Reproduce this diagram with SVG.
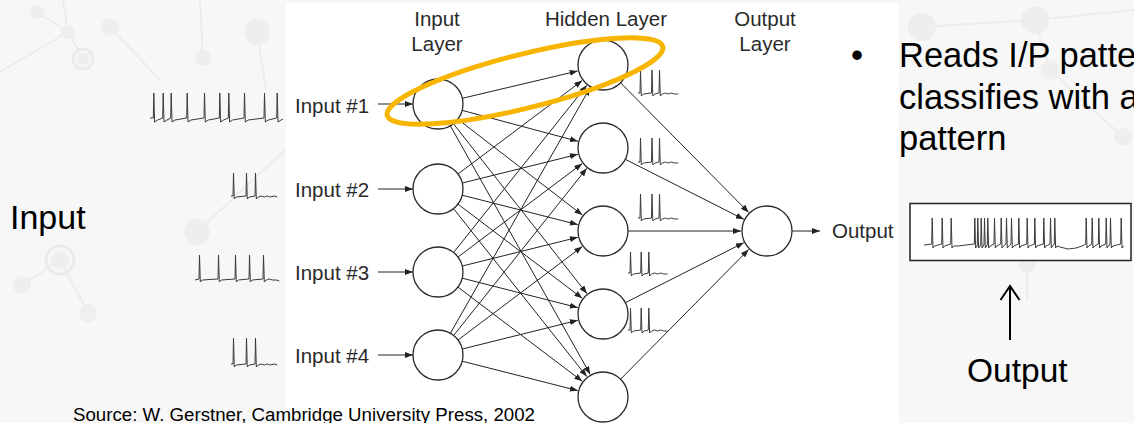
<svg xmlns="http://www.w3.org/2000/svg" width="1134" height="423" viewBox="0 0 1134 423">
<style>
.bgdec line{stroke:#ececec;stroke-width:2}
.bgdec circle{fill:#eeeeee}
.bgdec .ring{fill:none;stroke:#ebebeb;stroke-width:3}
.node circle{fill:#fff;stroke:#2a2a2a;stroke-width:1.3}
.conn line{stroke:#222;stroke-width:1;fill:none;marker-end:url(#ah)}
.lbl{font-family:"Liberation Sans",Arial,sans-serif;font-size:20.5px;fill:#2a2a2a}
.big{font-family:"Liberation Sans",Arial,sans-serif;font-size:34.5px;fill:#000}
.spk{fill:none;stroke:#3a3a3a;stroke-width:1;stroke-linejoin:round}
</style>
<defs>
<marker id="ah" viewBox="0 0 8 6" refX="8" refY="3" markerWidth="8" markerHeight="6" markerUnits="userSpaceOnUse" orient="auto">
<path d="M0,0 L8,3 L0,6 z" fill="#222"/>
</marker>
</defs>
<rect x="0" y="0" width="1134" height="423" fill="#f7f7f7"/>
<g class="bgdec">
<line x1="0" y1="72" x2="68" y2="32"/><line x1="37" y1="12" x2="68" y2="32"/><line x1="68" y1="32" x2="83" y2="59"/><line x1="68" y1="32" x2="63" y2="0"/>
<line x1="203" y1="58" x2="200" y2="0"/><line x1="257" y1="32" x2="266" y2="90"/><line x1="110" y1="27" x2="160" y2="80"/>
<line x1="22" y1="285" x2="60" y2="260"/><line x1="60" y1="260" x2="88" y2="313"/><line x1="197" y1="232" x2="285" y2="150"/>
<line x1="922" y1="27" x2="1035" y2="20"/><line x1="1035" y1="20" x2="1050" y2="70"/><line x1="1050" y1="70" x2="1123" y2="137"/><line x1="1027" y1="240" x2="1027" y2="300"/><line x1="1134" y1="10" x2="1035" y2="20"/>
<circle cx="37" cy="12" r="7"/><circle cx="68" cy="32" r="7"/><circle cx="83" cy="59" r="6"/><circle class="ring" cx="83" cy="59" r="10"/>
<circle cx="110" cy="27" r="9"/><circle cx="203" cy="58" r="8"/><circle cx="257" cy="32" r="13"/>
<circle cx="197" cy="232" r="13"/><circle cx="60" cy="260" r="9"/><circle class="ring" cx="60" cy="260" r="14"/><circle cx="22" cy="285" r="9"/><circle cx="88" cy="313" r="9"/>
<circle cx="922" cy="27" r="14"/><circle cx="1035" cy="20" r="14"/><circle cx="1050" cy="70" r="10"/><circle cx="1123" cy="137" r="9"/>
<circle class="ring" cx="1027" cy="240" r="14"/><circle cx="1027" cy="265" r="8"/>
</g>
<rect x="286" y="3" width="613" height="420" fill="#fff"/>

<g id="layer-labels" class="lbl" text-anchor="middle">
<text x="437" y="26">Input</text><text x="437" y="51">Layer</text>
<text x="606" y="26">Hidden Layer</text>
<text x="765" y="26">Output</text><text x="765" y="51">Layer</text>
</g>

<g id="input-spikes" class="spk">
<path d="M150,118 L153.3,118 l0.5,-25 l0.8,29 l3,-2 L162.7,118 l0.5,-25 l0.8,29 l3,-2 L170.7,118 l0.5,-25 l0.8,29 l3,-2 L186.7,118 l0.5,-25 l0.8,29 l3,-2 L204,118 l0.5,-25 l0.8,29 l3,-2 L219.3,118 l0.5,-25 l0.8,29 l3,-2 L228.3,118 l0.5,-25 l0.8,29 l3,-2 L244,118 l0.5,-25 l0.8,29 l3,-2 L264,118 l0.5,-25 l0.8,29 l3,-2 L276.7,118 l0.5,-25 l0.8,29 l3,-2 l2,-1"/>
<path d="M231,196 L233,196 l0.5,-23 l0.8,26 l2,-2 L246,196 l0.5,-23 l0.8,26 l2,-2 L255,196 l0.5,-23 l0.8,26 l2,-2 l3,-1 l3,1 l3,-1 l3,1 l4,-1 l3,1"/>
<path d="M195,280 L199,279 l0.5,-24 l0.8,27 l2,-2 L218,279 l0.5,-24 l0.8,27 l2,-2 L235,279 l0.5,-24 l0.8,27 l2,-2 L249,279 l0.5,-24 l0.8,27 l2,-2 L263,279 l0.5,-24 l0.8,27 l2,-2 l3,-1 l3,1 l4,0 l3,1"/>
<path d="M231,364 L233,364 l0.5,-26 l0.8,29 l2,-2 L246,364 l0.5,-26 l0.8,29 l2,-2 L255,364 l0.5,-26 l0.8,29 l2,-2 l3,-1 l3,1 l3,-1 l3,1 l4,-1 l3,1"/>
</g>

<g id="input-labels" class="lbl">
<text x="295" y="113">Input #1</text>
<text x="295" y="197">Input #2</text>
<text x="295" y="280">Input #3</text>
<text x="295" y="363">Input #4</text>
<text x="832" y="238">Output</text>
</g>

<g id="hidden-spikes" class="spk">
<path d="M638,93 L640,93 l0.5,-23 l0.8,26 l2,-2 L651.5,93 l0.5,-23 l0.8,26 l2,-2 L659,93 l0.5,-23 l0.8,26 l2,-2 l3,-1 l3,1 l3,-1 l3,1 l4,0"/>
<path d="M638,162 L640,162 l0.5,-24 l0.8,27 l2,-2 L651.5,162 l0.5,-24 l0.8,27 l2,-2 L659,162 l0.5,-24 l0.8,27 l2,-2 l3,-1 l3,1 l3,-1 l3,1 l4,0"/>
<path d="M638,218 L640,218 l0.5,-24 l0.8,27 l2,-2 L651.5,218 l0.5,-24 l0.8,27 l2,-2 L659,218 l0.5,-24 l0.8,27 l2,-2 l3,-1 l3,1 l3,-1 l3,1 l4,0"/>
<path d="M628,273 L630,273 l0.5,-21 l0.8,24 l2,-2 L640.7,273 l0.5,-21 l0.8,24 l2,-2 L648.3,273 l0.5,-21 l0.8,24 l2,-2 l3,-1 l3,1 l3,-1 l3,1 l4,0"/>
<path d="M628,330 L630,330 l0.5,-22 l0.8,25 l2,-2 L640.7,330 l0.5,-22 l0.8,25 l2,-2 L648.3,330 l0.5,-22 l0.8,25 l2,-2 l3,-1 l3,1 l3,-1 l3,1 l4,0"/>
</g>

<g id="connectors" class="conn">
<line x1="378" y1="104" x2="413" y2="104"/>
<line x1="378" y1="189" x2="413" y2="189"/>
<line x1="378" y1="272" x2="413" y2="272"/>
<line x1="378" y1="355" x2="413" y2="355"/>
<line x1="462.3" y1="98.3" x2="577.7" y2="71"/>
<line x1="462.2" y1="110.4" x2="577.9" y2="141.3"/>
<line x1="457.8" y1="119.2" x2="582.4" y2="215.1"/>
<line x1="453.4" y1="123.7" x2="586.9" y2="293.6"/>
<line x1="450.3" y1="125.8" x2="590.2" y2="374.3"/>
<line x1="458" y1="174" x2="582.2" y2="80.6"/>
<line x1="462.3" y1="183" x2="577.8" y2="154.3"/>
<line x1="462.2" y1="195.2" x2="577.8" y2="224.6"/>
<line x1="457.9" y1="204.1" x2="582.3" y2="298.3"/>
<line x1="453.5" y1="208.6" x2="586.8" y2="376.6"/>
<line x1="453.6" y1="252.5" x2="586.8" y2="85.3"/>
<line x1="458" y1="257" x2="582.2" y2="163.6"/>
<line x1="462.3" y1="266" x2="577.8" y2="237.3"/>
<line x1="462.2" y1="278.2" x2="577.8" y2="307.6"/>
<line x1="457.9" y1="287.1" x2="582.3" y2="381.3"/>
<line x1="450.4" y1="333.3" x2="590.1" y2="87.6"/>
<line x1="453.6" y1="335.5" x2="586.8" y2="168.3"/>
<line x1="458" y1="340" x2="582.2" y2="246.6"/>
<line x1="462.3" y1="349" x2="577.8" y2="320.3"/>
<line x1="462.2" y1="361.2" x2="577.8" y2="390.6"/>
<line x1="620.6" y1="82.8" x2="748.7" y2="212.5"/>
<line x1="625.3" y1="159.3" x2="743.8" y2="219.3"/>
<line x1="628" y1="231" x2="741" y2="231"/>
<line x1="625.3" y1="302.7" x2="743.8" y2="242.7"/>
<line x1="620.6" y1="379.2" x2="748.7" y2="249.5"/>
<line x1="792" y1="231" x2="820" y2="231"/>
</g>

<g id="in1" class="node"><circle cx="438" cy="104" r="25"/></g>
<g id="in2" class="node"><circle cx="438" cy="189" r="25"/></g>
<g id="in3" class="node"><circle cx="438" cy="272" r="25"/></g>
<g id="in4" class="node"><circle cx="438" cy="355" r="25"/></g>
<g id="h1" class="node"><circle cx="603" cy="65" r="25"/></g>
<g id="h2" class="node"><circle cx="603" cy="148" r="25"/></g>
<g id="h3" class="node"><circle cx="603" cy="231" r="25"/></g>
<g id="h4" class="node"><circle cx="603" cy="314" r="25"/></g>
<g id="h5" class="node"><circle cx="603" cy="397" r="25"/></g>
<g id="out" class="node"><circle cx="767" cy="231" r="25"/></g>

<g id="highlight">
<ellipse cx="525" cy="81" rx="142" ry="27" transform="rotate(-14 525 81)" fill="none" stroke="#F7B500" stroke-width="5"/>
</g>

<g id="output-box">
<rect x="910" y="203.5" width="221" height="57" fill="#fff" stroke="#222" stroke-width="1.5"/>
<path class="spk" d="M924,245 L931.7,244 l0.5,-26 l0.8,30 l1.5,-2 L941.7,244 l0.5,-26 l0.8,30 l1.5,-2 L950.7,244 l0.5,-26 l0.8,30 l1.5,-2 L958,246 L966,245 L974.3,244 l0.5,-26 l0.8,30 l1.5,-2 L977.3,244 l0.5,-26 l0.8,30 l1.5,-2 L980.7,244 l0.5,-26 l0.8,30 l1.5,-2 L984,244 l0.5,-26 l0.8,30 l1.5,-2 L987.3,244 l0.5,-26 l0.8,30 l1.5,-2 L994,244 l0.5,-26 l0.8,30 l1.5,-2 L1000.7,244 l0.5,-26 l0.8,30 l1.5,-2 L1006,244 l0.5,-26 l0.8,30 l1.5,-2 L1011,244 l0.5,-26 l0.8,30 l1.5,-2 L1018.3,244 l0.5,-26 l0.8,30 l1.5,-2 L1026.7,244 l0.5,-26 l0.8,30 l1.5,-2 L1034.3,244 l0.5,-26 l0.8,30 l1.5,-2 L1043.3,244 l0.5,-26 l0.8,30 l1.5,-2 L1050,244 l0.5,-26 l0.8,30 l1.5,-2 L1054.3,244 l0.5,-26 l0.8,30 l1.5,-2 L1060,247 L1068,249 L1076,248 L1082,246 L1085.7,244 l0.5,-26 l0.8,30 l1.5,-2 L1091.7,244 l0.5,-26 l0.8,30 l1.5,-2 L1098.3,244 l0.5,-26 l0.8,30 l1.5,-2 L1105.7,244 l0.5,-26 l0.8,30 l1.5,-2 L1110,244 l0.5,-26 l0.8,30 l1.5,-2 L1120.7,244 l0.5,-26 l0.8,30 l1.5,-2"/>
</g>

<g id="output-pointer">
<path d="M1010,340 L1010,287 M1000.5,300 L1010,286 L1019.5,300" fill="none" stroke="#000" stroke-width="2"/>
</g>

<g id="slide-text" class="big">
<text x="10" y="229" font-size="34">Input</text>
<text x="967" y="382" font-size="33.5">Output</text>
<text x="851" y="67">•</text>
<text x="899" y="67">Reads I/P patte</text>
<text x="899" y="109">classifies with a</text>
<text x="899" y="150">pattern</text>
</g>

<text x="73" y="421" font-family="Liberation Sans, Arial, sans-serif" font-size="17.5" fill="#000" textLength="462" lengthAdjust="spacingAndGlyphs">Source: W. Gerstner, Cambridge University Press, 2002</text>
</svg>
